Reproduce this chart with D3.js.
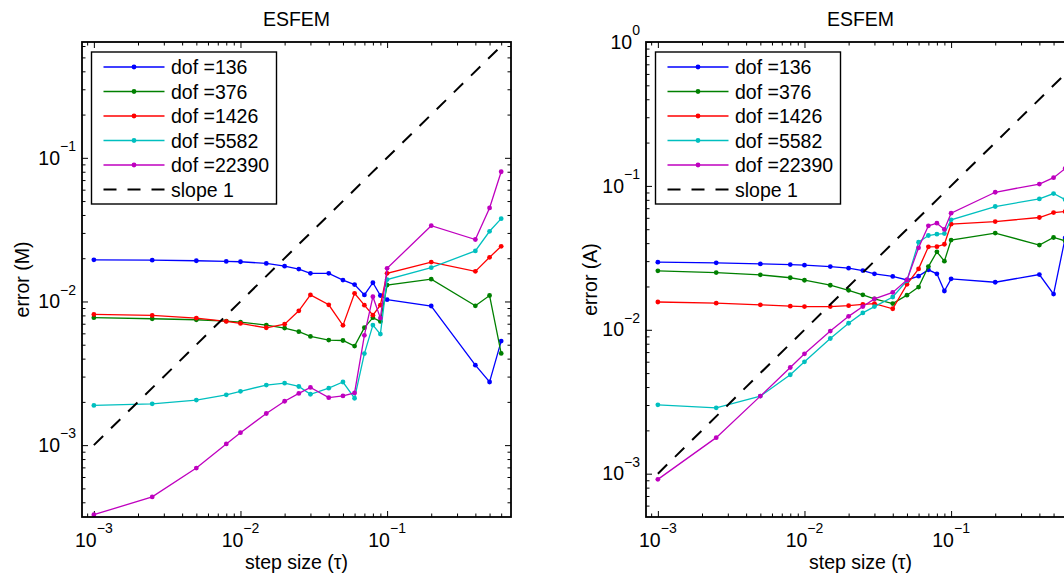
<!DOCTYPE html>
<html><head><meta charset="utf-8">
<script src="https://cdn.jsdelivr.net/npm/d3@7"></script>
<style>
body{margin:0;background:#fff;}
svg{display:block;font-family:"Liberation Sans",Arial,Helvetica,sans-serif;}
</style>
</head><body><svg id="c" width="1064" height="577"></svg>
<script>
// ---------- data ----------
const tau = [0.001, 0.0025, 0.005, 0.008, 0.01, 0.015, 0.02, 0.025, 0.03, 0.04, 0.05, 0.06, 0.07, 0.08, 0.09, 0.1, 0.2, 0.4, 0.5, 0.6];
const dofLabels = ["dof =136", "dof =376", "dof =1426", "dof =5582", "dof =22390"];
const seriesColors = ["#0000ff", "#008000", "#ff0000", "#00bfbf", "#bf00bf"];

// left panel: error (M)
const errM136   = [0.0195, 0.0194, 0.0192, 0.0190, 0.0189, 0.0184, 0.0176, 0.0168, 0.0157, 0.0157, 0.0141, 0.0131, 0.0111, 0.0135, 0.0110, 0.0103, 0.0093, 0.0036, 0.00275, 0.0053];
const errM376   = [0.00771, 0.00758, 0.00746, 0.00730, 0.00718, 0.00685, 0.00653, 0.00616, 0.00571, 0.00539, 0.00535, 0.00489, 0.00657, 0.00771, 0.00726, 0.0130, 0.0143, 0.00933, 0.0110, 0.00435];
const errM1426  = [0.00812, 0.00800, 0.00766, 0.00726, 0.00703, 0.00656, 0.00695, 0.00861, 0.0111, 0.00948, 0.00682, 0.0114, 0.00942, 0.00803, 0.00942, 0.0157, 0.0188, 0.0162, 0.0203, 0.0242];
const errM5582  = [0.00189, 0.00194, 0.00206, 0.00224, 0.00237, 0.00262, 0.00270, 0.00256, 0.00226, 0.00249, 0.00275, 0.00212, 0.00434, 0.00685, 0.00593, 0.0142, 0.0172, 0.0225, 0.0308, 0.0377];
const errM22390 = [0.000328, 0.000436, 0.000692, 0.00102, 0.00122, 0.00166, 0.00202, 0.00229, 0.00252, 0.00214, 0.00220, 0.00231, 0.00581, 0.0108, 0.00766, 0.0170, 0.0337, 0.0270, 0.0448, 0.0800];

// right panel: error (A)
const errA136   = [0.0295, 0.0292, 0.0287, 0.0284, 0.0281, 0.0275, 0.0268, 0.0258, 0.0245, 0.0235, 0.0222, 0.0236, 0.0261, 0.0245, 0.0186, 0.0226, 0.0214, 0.0242, 0.0177, 0.0435];
const errA376   = [0.0257, 0.0250, 0.0241, 0.0230, 0.0221, 0.0204, 0.0188, 0.0175, 0.0164, 0.0152, 0.0174, 0.0198, 0.0275, 0.0348, 0.0300, 0.0420, 0.0470, 0.0388, 0.0438, 0.0415];
const errA1426  = [0.0156, 0.0153, 0.0149, 0.0146, 0.0145, 0.0145, 0.0147, 0.0150, 0.0152, 0.0140, 0.0207, 0.0265, 0.0377, 0.0378, 0.0393, 0.0542, 0.0565, 0.0603, 0.0653, 0.0664];
const errA5582  = [0.00301, 0.00287, 0.00346, 0.00487, 0.00599, 0.00870, 0.0111, 0.0131, 0.0145, 0.0169, 0.0219, 0.0406, 0.0452, 0.0462, 0.0466, 0.0581, 0.0719, 0.0812, 0.0885, 0.0804];
const errA22390 = [0.000913, 0.00178, 0.00346, 0.00547, 0.00681, 0.00979, 0.0124, 0.0145, 0.0164, 0.0182, 0.0222, 0.0371, 0.0528, 0.0551, 0.0498, 0.0646, 0.0903, 0.103, 0.114, 0.132];

// reference slope-1 line
const slopeTau = [0.001, 0.6];
const slopeErr = [0.001, 0.6];
const slopeLabel = "slope 1";

const xTickValues = [1e-3, 1e-2, 1e-1];
const yTickValuesM = [1e-3, 1e-2, 1e-1];
const yTickValuesA = [1e-3, 1e-2, 1e-1, 1];

const titleText = "ESFEM";
const xLabelText = "step size (\u03c4)";

// ---------- layout ----------
const svg = d3.select("#c");
svg.append("rect").attr("width", 1064).attr("height", 577).attr("fill", "#fff");

const TOP = 42, BOTTOM = 517, PW = 429;
const FS = 19.5, SUPFS = 14;
const xDomain = [8.3e-4, 0.70];

const panels = [
  { left: 82,  ylabel: "error (M)", series: [errM136, errM376, errM1426, errM5582, errM22390], yDomain: [3.16e-4, 0.64], yTicks: yTickValuesM, ylabelX: 29 },
  { left: 646, ylabel: "error (A)", series: [errA136, errA376, errA1426, errA5582, errA22390], yDomain: [5e-4, 1],       yTicks: yTickValuesA, ylabelX: 597 }
];

function expLabel(sel, v) {
  const e = Math.round(Math.log10(v));
  sel.append("tspan").text("10");
  sel.append("tspan").attr("dy", -13.5).attr("font-size", SUPFS).text(e < 0 ? "\u2212" + (-e) : String(e));
}
function minorValues(domain) {
  const out = [];
  for (let d = -5; d <= 1; d++) for (let k = 2; k <= 9; k++) {
    const v = k * Math.pow(10, d);
    if (v > domain[0] && v < domain[1]) out.push(v);
  }
  return out;
}

panels.forEach((p, pi) => {
  const L = p.left, R = p.left + PW;
  const x = d3.scaleLog().domain(xDomain).range([L, R]);
  const y = d3.scaleLog().domain(p.yDomain).range([BOTTOM, TOP]);
  const g = svg.append("g");

  const clipId = "clip" + pi;
  g.append("clipPath").attr("id", clipId).append("rect")
    .attr("x", L).attr("y", TOP).attr("width", PW).attr("height", BOTTOM - TOP);

  // ticks (inward, all four sides)
  const xMinor = minorValues(xDomain), yMinor = minorValues(p.yDomain);
  const axes = [
    [d3.axisBottom(x).tickValues(xTickValues).tickSize(-6), `translate(0,${BOTTOM})`],
    [d3.axisBottom(x).tickValues(xMinor).tickSize(-3.5), `translate(0,${BOTTOM})`],
    [d3.axisTop(x).tickValues(xTickValues).tickSize(-6), `translate(0,${TOP})`],
    [d3.axisTop(x).tickValues(xMinor).tickSize(-3.5), `translate(0,${TOP})`],
    [d3.axisLeft(y).tickValues(p.yTicks).tickSize(-6), `translate(${L},0)`],
    [d3.axisLeft(y).tickValues(yMinor).tickSize(-3.5), `translate(${L},0)`],
    [d3.axisRight(y).tickValues(p.yTicks).tickSize(-6), `translate(${R},0)`],
    [d3.axisRight(y).tickValues(yMinor).tickSize(-3.5), `translate(${R},0)`]
  ];
  axes.forEach(([ax, tr]) => {
    const a = g.append("g").attr("transform", tr).call(ax.tickFormat(""));
    a.select(".domain").remove();
    a.selectAll("line").attr("stroke", "#000").attr("stroke-width", 1);
  });

  // tick labels
  xTickValues.forEach(v => {
    g.append("text").attr("x", x(v)).attr("y", 546.5).attr("text-anchor", "middle")
      .attr("font-size", FS).attr("fill", "#000").call(expLabel, v);
  });
  p.yTicks.forEach(v => {
    g.append("text").attr("x", L - 6).attr("y", y(v) + 6.7).attr("text-anchor", "end")
      .attr("font-size", FS).attr("fill", "#000").call(expLabel, v);
  });

  // data
  const plot = g.append("g").attr("clip-path", `url(#${clipId})`);
  const line = d3.line().x(d => x(d[0])).y(d => y(d[1]));
  p.series.forEach((s, si) => {
    const pts = tau.map((t, i) => [t, s[i]]);
    plot.append("path").attr("d", line(pts)).attr("fill", "none")
      .attr("stroke", seriesColors[si]).attr("stroke-width", 1.3);
    plot.selectAll(null).data(pts).enter().append("circle")
      .attr("cx", d => x(d[0])).attr("cy", d => y(d[1])).attr("r", 2.4)
      .attr("fill", seriesColors[si]);
  });
  plot.append("path").attr("d", line(slopeTau.map((t, i) => [t, slopeErr[i]])))
    .attr("fill", "none").attr("stroke", "#000").attr("stroke-width", 2)
    .attr("stroke-dasharray", "13,11");

  // box
  g.append("rect").attr("x", L).attr("y", TOP).attr("width", PW).attr("height", BOTTOM - TOP)
    .attr("fill", "none").attr("stroke", "#000").attr("stroke-width", 1.8);

  // title and labels
  g.append("text").attr("x", (L + R) / 2).attr("y", 26).attr("text-anchor", "middle")
    .attr("font-size", FS).attr("fill", "#000").text(titleText);
  g.append("text").attr("x", (L + R) / 2).attr("y", 569).attr("text-anchor", "middle")
    .attr("font-size", FS).attr("fill", "#000").text(xLabelText);
  g.append("text").attr("transform", `translate(${p.ylabelX},${(TOP + BOTTOM) / 2}) rotate(-90)`)
    .attr("text-anchor", "middle").attr("font-size", FS).attr("fill", "#000").text(p.ylabel);

  // legend
  const lx = L + 9.5, ly = 52, lw = 185, lh = 152;
  const lg = g.append("g");
  lg.append("rect").attr("x", lx).attr("y", ly).attr("width", lw).attr("height", lh)
    .attr("fill", "#fff").attr("stroke", "#000").attr("stroke-width", 1.4);
  const entries = dofLabels.map((d, i) => ({ label: d, color: seriesColors[i], dash: null }))
    .concat([{ label: slopeLabel, color: "#000", dash: "13,11" }]);
  entries.forEach((e, i) => {
    const ry = 67 + i * 24.5;
    lg.append("line").attr("x1", lx + 12).attr("x2", lx + 73).attr("y1", ry).attr("y2", ry)
      .attr("stroke", e.color).attr("stroke-width", e.dash ? 2 : 1.3)
      .attr("stroke-dasharray", e.dash);
    if (!e.dash) lg.append("circle").attr("cx", lx + 42.5).attr("cy", ry).attr("r", 2.4).attr("fill", e.color);
    lg.append("text").attr("x", lx + 79.5).attr("y", ry + 7).attr("font-size", FS)
      .attr("fill", "#000").text(e.label);
  });
});
</script>
</body></html>
